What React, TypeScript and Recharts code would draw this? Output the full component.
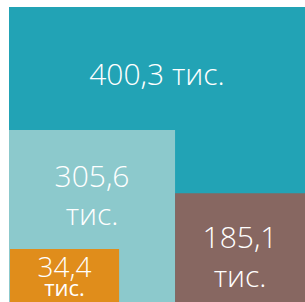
import { ComposedChart, Line, ReferenceArea, XAxis, YAxis } from "recharts";

// values in thousands, biggest first (each box drawn over the previous one)
const values = [400.3, 305.6, 185.1, 34.4];
const unit = "тис.";
const colors = ["#22a3b5", "#8cc9cc", "#876761", "#e08d1b"];

// box extents on a 0..100 grid of the plot (y counted from the bottom)
const boxes = [
  { x1: 0, x2: 100, y1: 0, y2: 100 },
  { x1: 0, x2: 56.1, y1: 0, y2: 58.3 },
  { x1: 56.1, x2: 100, y1: 0, y2: 36.9 },
  { x1: 0.34, x2: 37.2, y1: 0, y2: 18 },
];

// label styling per box: single line or wrapped, baselines from the box top
const labelStyles = [
  { wrap: false, base: [78], size: [30, 30], weight: [300, 300] },
  { wrap: true, base: [57, 95], size: [30, 30], weight: [300, 300] },
  { wrap: true, base: [55, 94], size: [30, 30], weight: [300, 300] },
  { wrap: true, base: [28, 47], size: [28, 22], weight: [300, 500] },
];

const fmt = (v: number) => v.toFixed(1).replace(".", ",");

const rows = values.map((v, i) => ({ id: i, value: v }));

function BoxLabel(props: any) {
  const { viewBox, index } = props;
  if (!viewBox) return null;
  const st = labelStyles[index];
  const cx = viewBox.x + viewBox.width / 2;
  const text = fmt(values[index]);
  const lines = st.wrap ? [text, unit] : [`${text} ${unit}`];
  return (
    <g>
      {lines.map((line, j) => (
        <text
          key={j}
          x={cx}
          y={viewBox.y + st.base[j]}
          textAnchor="middle"
          fill="#ffffff"
          fontFamily="'Open Sans', sans-serif"
          fontSize={st.size[j]}
          fontWeight={st.weight[j]}
        >
          {line}
        </text>
      ))}
    </g>
  );
}

export default function App() {
  return (
    <div style={{ position: "absolute", left: 0, top: 0, width: 305, height: 302 }}>
      <ComposedChart
        width={305}
        height={302}
        data={rows}
        margin={{ top: 7, left: 9, right: 0, bottom: 0 }}
      >
        <XAxis type="number" dataKey="id" domain={[0, 100]} allowDataOverflow hide />
        <YAxis yAxisId="grid" type="number" domain={[0, 100]} allowDataOverflow hide />
        <YAxis yAxisId="val" type="number" hide />
        <Line
          yAxisId="val"
          dataKey="value"
          stroke="none"
          dot={false}
          activeDot={false}
          isAnimationActive={false}
        />
        {boxes.map((b, i) => (
          <ReferenceArea
            key={i}
            yAxisId="grid"
            x1={b.x1}
            x2={b.x2}
            y1={b.y1}
            y2={b.y2}
            fill={colors[i]}
            fillOpacity={1}
            stroke="none"
            ifOverflow="visible"
            label={(p: any) => <BoxLabel {...p} index={i} />}
          />
        ))}
      </ComposedChart>
    </div>
  );
}
